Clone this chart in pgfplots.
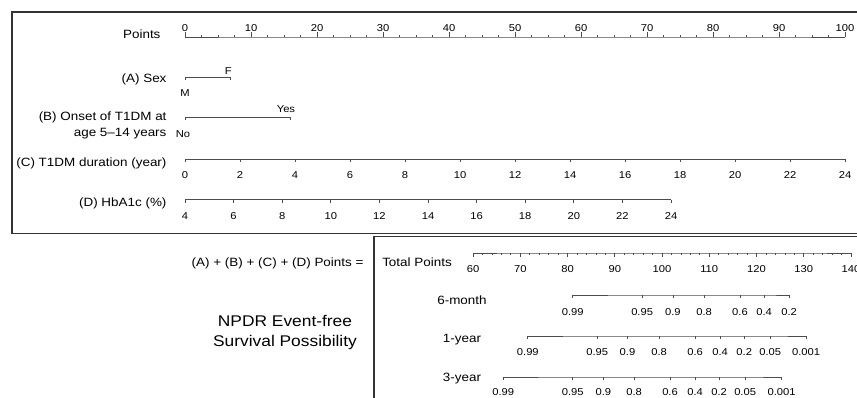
\documentclass[border=0pt]{standalone}
\usepackage{pgfplots}
\usepackage{pgfplotstable}
\pgfplotsset{compat=1.18}
\usepackage{fontspec}
\setmainfont{Liberation Sans}[FakeStretch=1.12]
\newcommand{\lblfont}{\fontsize{12}{14}\selectfont}
\newcommand{\tckfont}{\fontsize{10}{12}\selectfont}
\newcommand{\bigfont}{\fontsize{15.5}{19}\selectfont}

% ---- Points scale (0-100) ----
\pgfplotstableread{
v lab
0 0
10 10
20 20
30 30
40 40
50 50
60 60
70 70
80 80
90 90
100 100
}\ptsmajor
\pgfplotstableread{
v lab
2.5 a
5 a
7.5 a
12.5 a
15 a
17.5 a
22.5 a
25 a
27.5 a
32.5 a
35 a
37.5 a
42.5 a
45 a
47.5 a
52.5 a
55 a
57.5 a
62.5 a
65 a
67.5 a
72.5 a
75 a
77.5 a
82.5 a
85 a
87.5 a
92.5 a
95 a
97.5 a
}\ptsminor
% ---- (A) Sex: points per level ----
\pgfplotstableread{
pts lab
0 M
6.8 F
}\sextab
% ---- (B) Onset 5-14 years ----
\pgfplotstableread{
pts lab
0 No
15.9 Yes
}\onsettab
% ---- (C) T1DM duration (year), 0-24 -> 0-100 points ----
\pgfplotstableread{
v lab
0 0
2 2
4 4
6 6
8 8
10 10
12 12
14 14
16 16
18 18
20 20
22 22
24 24
}\durtab
% ---- (D) HbA1c (%), 4-24 -> 0-73.6 points ----
\pgfplotstableread{
v lab
4 4
6 6
8 8
10 10
12 12
14 14
16 16
18 18
20 20
22 22
24 24
}\hbatab
% ---- Total points 60-140 ----
\pgfplotstableread{
v lab
60 60
70 70
80 80
90 90
100 100
110 110
120 120
130 130
140 140
}\totmajor
\pgfplotstableread{
v lab
62 a
64 a
66 a
68 a
72 a
74 a
76 a
78 a
82 a
84 a
86 a
88 a
92 a
94 a
96 a
98 a
102 a
104 a
106 a
108 a
112 a
114 a
116 a
118 a
122 a
124 a
126 a
128 a
132 a
134 a
136 a
138 a
}\totminor
% ---- survival probabilities at total points ----
\pgfplotstableread{
pts lab
81.1 0.99
95.8 0.95
102.3 0.9
108.9 0.8
116.5 0.6
121.6 0.4
126.9 0.2
}\sixmonth
\pgfplotstableread{
pts lab
71.6 0.99
86.3 0.95
92.7 0.9
99.4 0.8
107.0 0.6
112.3 0.4
117.4 0.2
122.9 0.05
130.5 0.001
}\oneyear
\pgfplotstableread{
pts lab
66.4 0.99
81.1 0.95
87.6 0.9
94.1 0.8
101.7 0.6
107.0 0.4
112.1 0.2
117.6 0.05
125.3 0.001
}\threeyear
\pgfplotstableread{
pts lab
0 M
}\sexM
\pgfplotstableread{
pts lab
6.8 F
}\sexF
\pgfplotstableread{
pts lab
0 No
}\onNo
\pgfplotstableread{
pts lab
15.9 Yes
}\onYes

\begin{document}
\begin{tikzpicture}
\begin{axis}[
  width=857pt, height=398pt, scale only axis,
  xmin=0, xmax=857, ymin=0, ymax=398, y dir=reverse,
  hide axis, clip=false,
  sl/.style={draw=black!70, line width=0.7pt, mark=none},
  tk/.style={only marks, mark=|, mark size=#1, mark options={draw=black!70, line width=0.7pt}},
  lb/.style={nodes near coords, point meta=explicit symbolic,
     every node near coord/.append style={anchor=center, yshift=#1, font=\tckfont, inner sep=0pt, text=black}},
]
% frames
\draw[black!80, line width=1.1pt] (axis cs:858,12) -- (axis cs:12,12) -- (axis cs:12,233.5) -- (axis cs:858,233.5);
\draw[black!80, line width=1.1pt] (axis cs:858,236.5) -- (axis cs:374,236.5) -- (axis cs:374,400);

% Points
\addplot[sl] table[x expr=185+6.6*\thisrow{v}, y expr=37]{\ptsmajor};
\addplot[tk=2.25pt, lb=6.75pt] table[x expr=185+6.6*\thisrow{v}, y expr=34.75, meta=lab]{\ptsmajor};
\addplot[tk=1pt] table[x expr=185+6.6*\thisrow{v}, y expr=36]{\ptsminor};

% (A) Sex
\addplot[sl] table[x expr=185+6.6*\thisrow{pts}, y expr=77.5]{\sextab};
\addplot[tk=1.25pt] table[x expr=185+6.6*\thisrow{pts}, y expr=78.75]{\sextab};
\addplot[only marks, mark=none, lb=-14.5pt] table[x expr=185+6.6*\thisrow{pts}, y expr=78.75, meta=lab]{\sexM};
\addplot[only marks, mark=none, lb=7.5pt] table[x expr=185+6.6*\thisrow{pts}-1.5, y expr=78.75, meta=lab]{\sexF};

% (B) Onset
\addplot[sl] table[x expr=185+6.6*\thisrow{pts}, y expr=117.5]{\onsettab};
\addplot[tk=1.25pt] table[x expr=185+6.6*\thisrow{pts}, y expr=118.75]{\onsettab};
\addplot[only marks, mark=none, lb=-15.25pt] table[x expr=185+6.6*\thisrow{pts}-2, y expr=118.75, meta=lab]{\onNo};
\addplot[only marks, mark=none, lb=9.25pt] table[x expr=185+6.6*\thisrow{pts}-4, y expr=118.75, meta=lab]{\onYes};

% (C) duration
\addplot[sl] table[x expr=185+27.5*\thisrow{v}, y expr=159.5]{\durtab};
\addplot[tk=1.5pt, lb=-14pt] table[x expr=185+27.5*\thisrow{v}, y expr=161, meta=lab]{\durtab};

% (D) HbA1c
\addplot[sl] table[x expr=185+24.3*(\thisrow{v}-4), y expr=199.5]{\hbatab};
\addplot[tk=1.5pt, lb=-15pt] table[x expr=185+24.3*(\thisrow{v}-4), y expr=201, meta=lab]{\hbatab};

% Total points
\addplot[sl] table[x expr=473+4.725*(\thisrow{v}-60), y expr=253]{\totmajor};
\addplot[tk=1.75pt, lb=-14.25pt] table[x expr=473+4.725*(\thisrow{v}-60), y expr=254.75, meta=lab]{\totmajor};
\addplot[tk=1pt] table[x expr=473+4.725*(\thisrow{v}-60), y expr=254]{\totminor};

% 6-month
\addplot[sl] table[x expr=473+4.725*(\thisrow{pts}-60), y expr=295]{\sixmonth};
\addplot[tk=1.5pt, lb=-15.5pt] table[x expr=473+4.725*(\thisrow{pts}-60), y expr=296.5, meta=lab]{\sixmonth};
% 1-year
\addplot[sl] table[x expr=473+4.725*(\thisrow{pts}-60), y expr=336]{\oneyear};
\addplot[tk=1.5pt, lb=-14.5pt] table[x expr=473+4.725*(\thisrow{pts}-60), y expr=337.5, meta=lab]{\oneyear};
% 3-year
\addplot[sl] table[x expr=473+4.725*(\thisrow{pts}-60), y expr=377]{\threeyear};
\addplot[tk=1.5pt, lb=-13.5pt] table[x expr=473+4.725*(\thisrow{pts}-60), y expr=378.5, meta=lab]{\threeyear};

% text labels
\node[anchor=base east, font=\lblfont] at (axis cs:164,38.5) {Points};
\node[anchor=base east, font=\lblfont] at (axis cs:170,83) {(A) Sex};
\node[anchor=base east, font=\lblfont] at (axis cs:170,120.5) {(B) Onset of T1DM at};
\node[anchor=base east, font=\lblfont] at (axis cs:170,136.5) {age 5--14 years};
\node[anchor=base east, font=\lblfont] at (axis cs:170,167) {(C) T1DM duration (year)};
\node[anchor=base east, font=\lblfont] at (axis cs:170,207) {(D) HbA1c (\%)};
\node[anchor=base east, font=\lblfont] at (axis cs:367,266) {(A) + (B) + (C) + (D) Points =};
\node[anchor=base, font=\lblfont] at (axis cs:417,266) {Total Points};
\node[anchor=base, font=\lblfont] at (axis cs:462,304.5) {6-month};
\node[anchor=base, font=\lblfont] at (axis cs:462,342) {1-year};
\node[anchor=base, font=\lblfont] at (axis cs:462,381) {3-year};
\node[anchor=base, font=\bigfont] at (axis cs:285,326) {NPDR Event-free};
\node[anchor=base, font=\bigfont] at (axis cs:285,346) {Survival Possibility};

\coordinate (bbsw) at (axis cs:0,398);
\coordinate (bbne) at (axis cs:857,0);
\end{axis}
\pgfresetboundingbox
\useasboundingbox (bbsw) rectangle (bbne);
\end{tikzpicture}
\end{document}
